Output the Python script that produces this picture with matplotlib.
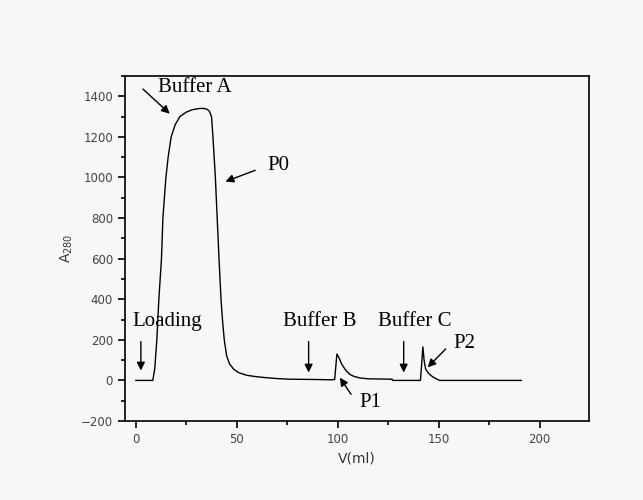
import numpy as np
import matplotlib.pyplot as plt
from matplotlib.ticker import MultipleLocator

# elution profile
vol = [0, 8.4, 9.4, 10.4, 11.4, 12.7, 13.4, 14.9, 16, 17.5, 19.5, 21.8, 25, 28, 31.5, 34, 35.5, 36.5, 37.5, 38.2,
       39.4, 40.3, 41.2, 42.2, 42.9, 43.8, 45, 46.5, 48.5, 51, 55, 60, 65, 70, 76, 85, 92, 97.5, 98.5,
       99, 99.6, 100.5, 102, 104, 106, 108, 111, 115, 120, 127, 127.1,
       141, 141.6, 142.2, 142.8, 143.6, 145, 147, 149, 150.5, 191]
a280 = [0, 0, 60, 200, 400, 600, 800, 1000, 1100, 1200, 1260, 1300, 1322, 1334, 1340, 1340, 1335, 1325, 1300, 1200,
        1000, 800, 600, 400, 300, 200, 120, 80, 55, 38, 25, 18, 13, 9, 6, 5, 4, 3, 5,
        60, 130, 115, 80, 50, 30, 20, 12, 8, 7, 6, 0,
        0, 80, 165, 100, 55, 35, 18, 7, 0, 0]

# annotations: label, text position, arrow tail, arrow head
labels = ['Loading', 'Buffer A', 'P0', 'Buffer B', 'Buffer C', 'P1', 'P2']
text_xy = [(-1.5, 290), (11, 1445), (65, 1060), (73, 290), (120, 290), (110.5, -110), (157.5, 180)]
tail_xy = [(2.5, 205), (2.5, 1445), (60.4, 1040), (85.6, 205), (132.7, 205), (107.4, -80), (154.5, 165)]
head_xy = [(2.5, 35), (17.8, 1305), (43.1, 975), (85.6, 25), (132.7, 25), (100.3, 25), (143.6, 55)]

bg = '#f7f7f7'
fig = plt.figure(figsize=(6.43, 5), dpi=100, facecolor=bg)
ax = fig.add_axes([0.194, 0.158, 0.722, 0.69], facecolor=bg)

ax.plot(vol, a280, color='black', lw=1)

for lab, t, s, h in zip(labels, text_xy, tail_xy, head_xy):
    ax.text(t[0], t[1], lab, fontsize=15, family='Liberation Serif', va='center', ha='left')
    ax.annotate('', xy=h, xytext=s,
                arrowprops=dict(arrowstyle='-|>', color='black', lw=1, mutation_scale=12))

ax.set_xlim(-5.5, 224.5)
ax.set_ylim(-200, 1500)
ax.xaxis.set_major_locator(MultipleLocator(50))
ax.xaxis.set_minor_locator(MultipleLocator(25))
ax.yaxis.set_major_locator(MultipleLocator(200))
ax.yaxis.set_minor_locator(MultipleLocator(100))
ax.tick_params(which='both', direction='out', width=1.2, labelsize=8.5, labelcolor='#444444')
ax.tick_params(which='major', length=5)
ax.tick_params(which='minor', length=3)
for sp in ax.spines.values():
    sp.set_linewidth(1.2)

ax.set_xlabel('V(ml)', fontsize=10, color='#333333')
ax.set_ylabel('A$_{280}$', fontsize=10, color='#333333')

plt.savefig('out.png', dpi=100, facecolor=bg)
